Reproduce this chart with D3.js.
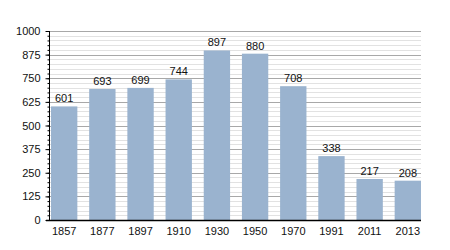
<!DOCTYPE html>
<html>
<head>
<meta charset="utf-8">
<script src="https://cdn.jsdelivr.net/npm/d3@7"></script>
<style>
    body { margin: 0; background: #fff; }
    text { font-family: "Liberation Sans", Arial, sans-serif; font-size: 11px; fill: #111; }
</style>
</head>
<body>
<div id="chart"></div>
<script>
// chart data
const years = ["1857", "1877", "1897", "1910", "1930", "1950", "1970", "1991", "2011", "2013"];
const population = [601, 693, 699, 744, 897, 880, 708, 338, 217, 208];
const yTicks = [0, 125, 250, 375, 500, 625, 750, 875, 1000];

const width = 450, height = 250;
const margin = { left: 50, right: 421, top: 31, bottom: 220 };

let svg = d3.select("#chart").append("svg")
    .attr("width", width)
    .attr("height", height);

let x = d3.scaleBand()
    .domain(years)
    .range([margin.left + 1, margin.right])
    .paddingInner(0.31)
    .paddingOuter(0);

let y = d3.scaleLinear()
    .domain([0, 1000])
    .range([margin.bottom, margin.top]);

// minor gridlines every 25
let minor = d3.range(25, 1001, 25).filter(v => v % 125 != 0);
svg.append("g").selectAll("line")
    .data(minor)
    .enter()
    .append("line")
    .attr("x1", margin.left)
    .attr("x2", margin.right)
    .attr("y1", d => Math.round(y(d)) + 0.5)
    .attr("y2", d => Math.round(y(d)) + 0.5)
    .attr("stroke", "#e2e2e2")
    .attr("stroke-width", 1);

// major gridlines
svg.append("g").selectAll("line")
    .data(yTicks.filter(d => d > 0))
    .enter()
    .append("line")
    .attr("x1", margin.left)
    .attr("x2", margin.right)
    .attr("y1", d => Math.round(y(d)) + 0.5)
    .attr("y2", d => Math.round(y(d)) + 0.5)
    .attr("stroke", "#a8a8a8")
    .attr("stroke-width", 1);

// bars
svg.append("g").selectAll("rect")
    .data(population)
    .enter()
    .append("rect")
    .attr("x", (d, i) => x(years[i]))
    .attr("width", x.bandwidth())
    .attr("y", d => y(d))
    .attr("height", d => margin.bottom - y(d))
    .attr("fill", "#9ab3cf");

// value labels
svg.append("g").selectAll("text")
    .data(population)
    .enter()
    .append("text")
    .attr("x", (d, i) => x(years[i]) + x.bandwidth() / 2)
    .attr("y", d => y(d) - 4)
    .attr("text-anchor", "middle")
    .text(d => d);

// y axis with minor ticks
let yMinor = d3.axisLeft(y)
    .tickValues(d3.range(0, 1001, 25))
    .tickSize(2)
    .tickFormat("");
svg.append("g")
    .attr("transform", `translate(${margin.left - 0.5},0)`)
    .call(yMinor)
    .call(g => g.select(".domain").remove())
    .selectAll("line").attr("stroke", "#000");

let yAxis = d3.axisLeft(y)
    .tickValues(yTicks)
    .tickFormat(d3.format("d"))
    .tickSize(4)
    .tickPadding(5);
svg.append("g")
    .attr("transform", `translate(${margin.left - 0.5},0)`)
    .call(yAxis)
    .call(g => g.select(".domain").attr("d", `M0,${margin.top}V${margin.bottom}`).attr("stroke", "#000"))
    .call(g => g.selectAll("text").style("font-size", "11px").style("font-family", "Liberation Sans, Arial, sans-serif"));

// x axis
svg.append("line")
    .attr("x1", margin.left - 4)
    .attr("x2", margin.right)
    .attr("y1", margin.bottom + 0.5)
    .attr("y2", margin.bottom + 0.5)
    .attr("stroke", "#000")
    .attr("stroke-width", 1.5);

svg.append("g").selectAll("text")
    .data(years)
    .enter()
    .append("text")
    .attr("x", d => x(d) + x.bandwidth() / 2)
    .attr("y", margin.bottom + 15)
    .attr("text-anchor", "middle")
    .text(d => d);
</script>
</body>
</html>
